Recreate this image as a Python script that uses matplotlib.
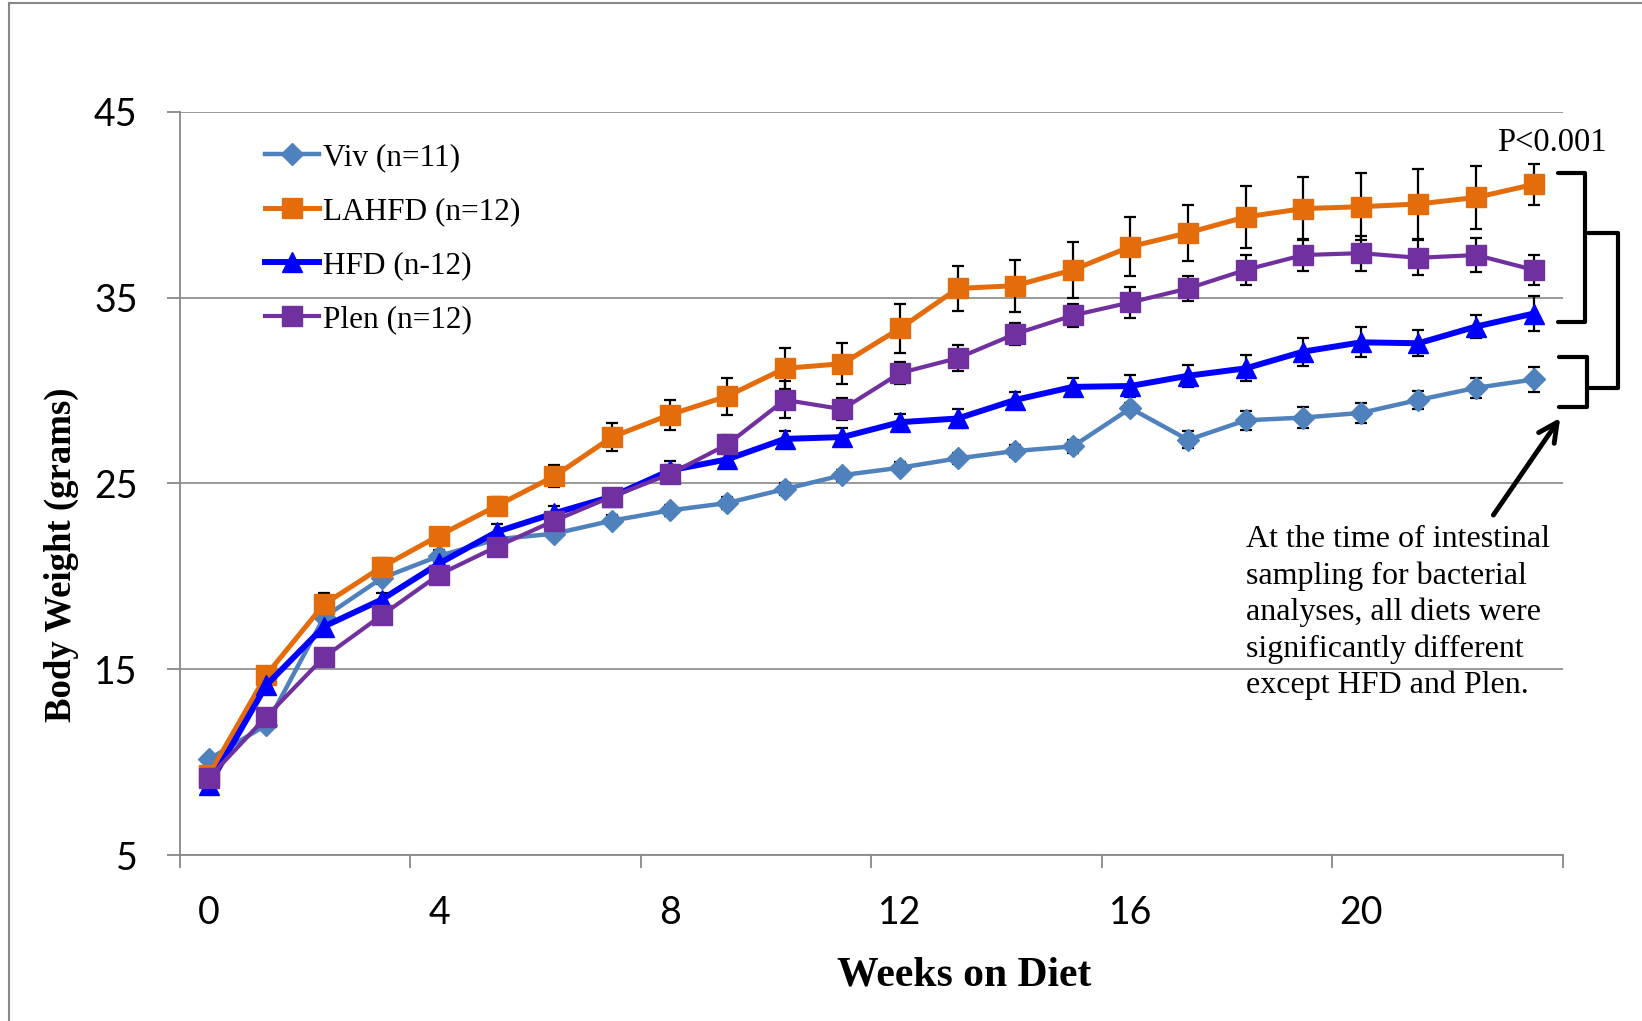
import matplotlib.pyplot as plt
import numpy as np
from matplotlib.lines import Line2D

# body weight (g) per week on diet
weeks = np.arange(24)
week_ticks = [0, 4, 8, 12, 16, 20]
week_labels = ['0', '4', '8', '12', '16', '20']

viv = [10.15, 12.0, 17.8, 19.9, 21.1, 22.0, 22.3, 23.0, 23.55, 23.95, 24.7, 25.45,
       25.85, 26.35, 26.75, 27.0, 29.05, 27.35, 28.4, 28.55, 28.8, 29.5, 30.15, 30.6]
viv_err = [0.1, 0.2, 0.3, 0.3, 0.3, 0.3, 0.3, 0.3, 0.3, 0.3, 0.3, 0.3,
           0.3, 0.3, 0.3, 0.35, 0.3, 0.45, 0.5, 0.55, 0.55, 0.5, 0.55, 0.65]

lahfd = [9.3, 14.7, 18.5, 20.5, 22.2, 23.8, 25.4, 27.5, 28.7, 29.7, 31.2, 31.45,
         33.35, 35.5, 35.65, 36.5, 37.75, 38.5, 39.35, 39.8, 39.9, 40.05, 40.4, 41.1]
lahfd_err = [0.2, 0.3, 0.6, 0.5, 0.3, 0.5, 0.6, 0.75, 0.8, 1.0, 1.1, 1.1,
             1.3, 1.2, 1.4, 1.5, 1.6, 1.5, 1.65, 1.7, 1.8, 1.9, 1.7, 1.1]

hfd = [8.75, 14.15, 17.3, 18.75, 20.7, 22.4, 23.4, 24.3, 25.7, 26.3, 27.4, 27.5,
       28.3, 28.5, 29.5, 30.2, 30.25, 30.8, 31.2, 32.1, 32.6, 32.55, 33.45, 34.15]
hfd_err = [0.2, 0.3, 0.35, 0.35, 0.3, 0.4, 0.4, 0.4, 0.5, 0.4, 0.4, 0.5,
           0.45, 0.5, 0.45, 0.5, 0.6, 0.6, 0.7, 0.75, 0.8, 0.7, 0.6, 0.95]

plen = [9.15, 12.45, 15.65, 17.9, 20.1, 21.6, 23.0, 24.3, 25.5, 27.1, 29.5, 29.0,
        30.95, 31.75, 33.05, 34.05, 34.75, 35.5, 36.5, 37.3, 37.4, 37.15, 37.3, 36.5]
plen_err = [0.2, 0.3, 0.3, 0.3, 0.3, 0.3, 0.4, 0.4, 0.5, 0.5, 1.0, 0.6,
            0.6, 0.7, 0.6, 0.6, 0.85, 0.65, 0.8, 0.85, 0.95, 0.95, 0.9, 0.8]

note = ("At the time of intestinal\nsampling for bacterial\nanalyses, all diets were\n"
        "significantly different\nexcept HFD and Plen.")

GRAY = '#888888'
SERIF = 'Liberation Serif'
SANS = 'Lato'

fig = plt.figure(figsize=(16.42, 10.21), dpi=100)
ax = fig.add_axes([180 / 1642, 1 - 855 / 1021, 1382.5 / 1642, 743 / 1021])

ebkw = dict(fmt='none', ecolor='black', elinewidth=1.6, capsize=4, capthick=1.6, zorder=2.5)
ax.errorbar(weeks, viv, yerr=viv_err, **ebkw)
ax.errorbar(weeks, lahfd, yerr=lahfd_err, **ebkw)
ax.errorbar(weeks, hfd, yerr=hfd_err, **ebkw)
ax.errorbar(weeks, plen, yerr=plen_err, **ebkw)

ax.plot(weeks, viv, color='#4F81BD', lw=3.2, marker='D', ms=11, label='Viv (n=11)', zorder=3)
ax.plot(weeks, lahfd, color='#E46C0A', lw=3.6, marker='s', ms=14, label='LAHFD (n=12)', zorder=4)
ax.plot(weeks, hfd, color='#0000FF', lw=4.3, marker='^', ms=14, label='HFD (n-12)', zorder=5)
ax.plot(weeks, plen, color='#7030A0', lw=3.0, marker='s', ms=14, label='Plen (n=12)', zorder=6)

ax.set_xlim(-0.5, 23.5)
ax.set_ylim(5, 45)
ax.set_yticks([5, 15, 25, 35, 45])
ax.grid(axis='y', color=GRAY, lw=1.2, zorder=0)
ax.set_axisbelow(True)

# category-style axis: tick marks between groups of 4 weeks, labels on the weeks
ax.set_xticks(np.arange(-0.5, 24, 4))
ax.set_xticklabels([])
ax.set_xticks(week_ticks, minor=True)
ax.set_xticklabels(week_labels, minor=True)
ax.tick_params(axis='x', which='major', length=9.5, width=1.3, color=GRAY, direction='out')
ax.tick_params(axis='x', which='minor', length=0, pad=29, labelsize=27)
ax.tick_params(axis='y', length=9.5, width=1.3, color=GRAY, direction='out', pad=21, labelsize=27)
for lab in ax.get_xticklabels(minor=True) + ax.get_yticklabels():
    lab.set_fontfamily(SANS)

for s in ['top', 'right']:
    ax.spines[s].set_visible(False)
for s in ['left', 'bottom']:
    ax.spines[s].set_color(GRAY)
    ax.spines[s].set_linewidth(1.3)

ax.set_xlabel('Weeks on Diet', fontfamily=SERIF, fontweight='bold', fontsize=30, va='center')
ax.xaxis.set_label_coords(0.5675, -0.1617)
ax.set_ylabel('Body Weight (grams)', fontfamily=SERIF, fontweight='bold', fontsize=26.5, va='center')
ax.yaxis.set_label_coords(-0.0855, 0.404)

ax.legend(loc='upper left', bbox_to_anchor=(0.0615, 0.9585), frameon=False,
          prop={'family': SERIF, 'size': 22.5}, handlelength=1.72, handletextpad=0.15,
          labelspacing=0.8, borderpad=0, borderaxespad=0)

# significance brackets on the right
bk = dict(color='black', lw=3, clip_on=False, solid_joinstyle='round', solid_capstyle='round', zorder=7)
ax.plot([23.42, 23.89, 23.89, 23.42], [41.73, 41.73, 33.71, 33.71], **bk)
ax.plot([23.44, 23.93, 23.93, 23.44], [31.83, 31.83, 29.1, 29.1], **bk)
ax.plot([23.94, 24.47, 24.47, 23.96], [38.47, 38.47, 30.12, 30.12], **bk)
ax.text(23.32, 43.35, 'P<0.001', fontfamily=SERIF, fontsize=23.5, ha='center', va='center')

ax.annotate('', xy=(23.46, 28.53), xytext=(22.3, 23.3),
            arrowprops=dict(arrowstyle='->', lw=3.5, color='black', mutation_scale=34,
                            shrinkA=0, shrinkB=0))
ax.text(18.0, 22.75, note, fontfamily=SERIF, fontsize=23, ha='left', va='top', linespacing=1.31)

# frame lines of the original picture (left and top only)
fig.add_artist(Line2D([9 / 1642, 9 / 1642], [0, 1 - 3.5 / 1021], color=GRAY, lw=1.5))
fig.add_artist(Line2D([9 / 1642, 1], [1 - 3.5 / 1021, 1 - 3.5 / 1021], color=GRAY, lw=1.5))

fig.savefig('out.png', dpi=100)
